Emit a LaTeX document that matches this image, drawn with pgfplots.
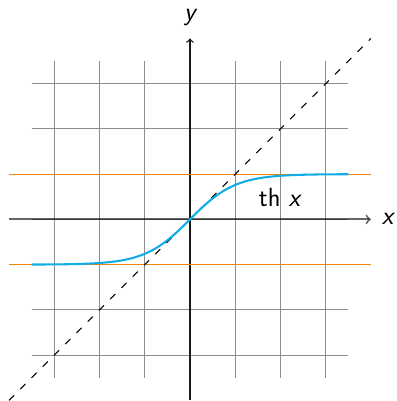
\documentclass[border=0pt]{standalone}
\usepackage{pgfplots}
\pgfplotsset{compat=1.18}
\definecolor{thcurve}{RGB}{16,172,230}
\definecolor{asym}{RGB}{240,132,8}
\definecolor{gridgray}{RGB}{140,140,140}
\tikzset{lbl/.style={font=\sffamily\fontsize{16.5}{19}\selectfont, inner sep=0pt}}
\begin{document}
\begin{tikzpicture}
\begin{axis}[
  x=1cm, y=1cm,
  xmin=-3.5, xmax=3.5, ymin=-3.5, ymax=3.5,
  xtick={-3,-2,-1,0,1,2,3}, ytick={-3,-2,-1,0,1,2,3},
  xticklabels={}, yticklabels={},
  major tick length=0pt,
  grid=major,
  grid style={gridgray, line width=0.65pt},
  axis line style={draw=none},
  clip=false,
]
% frame that fixes the picture's extent
\path (axis cs:-4.2,-4.0) rectangle (axis cs:4.57,4.85);
% coordinate axes
\addplot[black, opacity=0.6, line width=1.2pt, -to, forget plot] coordinates {(-4,0) (4,0)};
\addplot[black!90, line width=0.85pt, -to, forget plot] coordinates {(0,-4) (0,4)};
% asymptotes y = 1 and y = -1
\addplot[asym, line width=0.7pt] coordinates {(-4,1) (4,1)};
\addplot[asym, line width=0.7pt] coordinates {(-4,-1) (4,-1)};
% bisector y = x
\addplot[black, line width=0.65pt, dash pattern=on 4.5pt off 5.5pt] coordinates {(-4,-4) (4,4)};
% hyperbolic tangent
\addplot[thcurve, line width=1.3pt, smooth] coordinates {
(-3.5,-0.9982) (-3.25,-0.9970) (-3.0,-0.9951) (-2.75,-0.9919) (-2.5,-0.9866)
(-2.25,-0.9780) (-2.0,-0.9640) (-1.75,-0.9414) (-1.5,-0.9051) (-1.25,-0.8483)
(-1.0,-0.7616) (-0.75,-0.6351) (-0.5,-0.4621) (-0.25,-0.2449) (0,0)
(0.25,0.2449) (0.5,0.4621) (0.75,0.6351) (1.0,0.7616) (1.25,0.8483)
(1.5,0.9051) (1.75,0.9414) (2.0,0.9640) (2.25,0.9780) (2.5,0.9866)
(2.75,0.9919) (3.0,0.9951) (3.25,0.9970) (3.5,0.9982)};
% labels
\node[lbl, anchor=base] at (axis cs:2.0,0.28) {th \textit{x}};
\node[lbl, anchor=base] at (axis cs:4.39,-0.11) {\textit{x}};
\node[lbl, anchor=base] at (axis cs:0.02,4.40) {\textit{y}};
\end{axis}
\end{tikzpicture}
\end{document}
